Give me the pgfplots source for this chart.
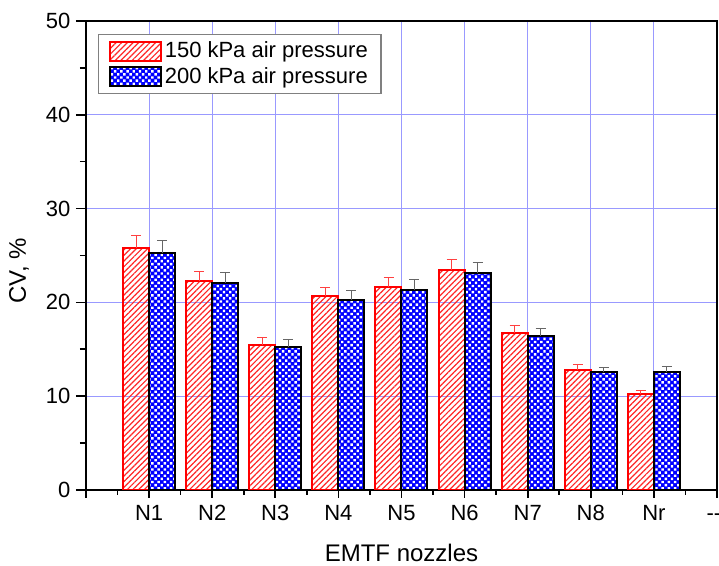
\documentclass[border=0pt]{standalone}
\usepackage{fontspec}
\setmainfont{Liberation Sans}
\usepackage{pgfplots}
\pgfplotsset{compat=1.18}
\usetikzlibrary{patterns.meta,calc}

\begin{document}
\begin{tikzpicture}
  \begin{axis}[
    scale only axis,
    width=315.5pt, height=234.5pt,
    ybar=0pt, bar width=13pt,
    xmin=0, xmax=10, ymin=0, ymax=50,
    xtick={0,...,10},
    xticklabels={{},N1,N2,N3,N4,N5,N6,N7,N8,Nr,\makebox[0pt]{\hspace{-3pt}-{}-}\vphantom{N}},
    ytick={0,10,...,50},
    minor x tick num=1, minor y tick num=1,
    tick align=outside,
    xtick pos=bottom, ytick pos=left,
    xtick style={/pgfplots/major tick length=4pt, /pgfplots/minor tick length=2.5pt, line width=0.8pt, black},
    ytick style={/pgfplots/major tick length=5pt, /pgfplots/minor tick length=3pt, line width=0.8pt, black},
    axis line style={line width=1pt},
    grid=major,
    major grid style={blue!40, line width=0.5pt},
    tick label style={font=\fontsize{11}{13}\selectfont},
    /pgf/number format/assume math mode=true,
    xlabel={EMTF nozzles},
    ylabel={CV, \%},
    label style={font=\fontsize{12}{14}\selectfont},
    x label style={at={(axis description cs:0.5,0)}, anchor=base, yshift=-36pt},
    y label style={at={(axis description cs:-0.106,0.467)}, anchor=center},
    legend style={at={(rel axis cs:0.019,0.972)}, anchor=north west,
      draw=gray, line width=0.6pt, inner xsep=5pt, inner ysep=2pt,
      font=\fontsize{11}{13}\selectfont, nodes={inner sep=1.6pt}, row sep=0pt},
    legend cell align=left,
    legend image code/.code={\draw[#1] (0pt,-4.75pt) rectangle (25.5pt,4.75pt);},
  ]
  \coordinate (bl) at (rel axis cs:0,0);
  \coordinate (tr) at (rel axis cs:1,1);

  \addplot[draw=red, line width=1pt, fill=white,
    pattern={Lines[angle=45, distance=2pt, line width=0.6pt]}, pattern color=red!85,
    error bars/.cd, y dir=plus, y explicit,
    error bar style={red!75, line width=0.5pt},
    error mark options={rotate=90, mark size=2.5pt, red!75, line width=0.5pt}]
  coordinates {
    (1,25.8) +- (0,1.3)
    (2,22.3) +- (0,1.0)
    (3,15.5) +- (0,0.75)
    (4,20.7) +- (0,0.9)
    (5,21.6) +- (0,1.1)
    (6,23.45) +- (0,1.15)
    (7,16.7) +- (0,0.85)
    (8,12.8) +- (0,0.6)
    (9,10.2) +- (0,0.45)
  };
  \addlegendentry{150 kPa air pressure}

  \addplot[draw=black, line width=1pt, preaction={fill=blue},
    pattern={Dots[angle=45, distance=2.2pt, radius=0.85pt]}, pattern color=white,
    error bars/.cd, y dir=plus, y explicit,
    error bar style={gray!80!black, line width=0.5pt},
    error mark options={rotate=90, mark size=2.5pt, gray!80!black, line width=0.5pt}]
  coordinates {
    (1,25.3) +- (0,1.3)
    (2,22.1) +- (0,1.1)
    (3,15.2) +- (0,0.8)
    (4,20.3) +- (0,1.0)
    (5,21.3) +- (0,1.1)
    (6,23.1) +- (0,1.2)
    (7,16.4) +- (0,0.8)
    (8,12.55) +- (0,0.55)
    (9,12.6) +- (0,0.6)
  };
  \addlegendentry{200 kPa air pressure}
  \end{axis}
  \pgfresetboundingbox
  \path ($(bl)+(-43pt,-38pt)$) rectangle ($(tr)+(1pt,10.5pt)$);
\end{tikzpicture}
\end{document}
